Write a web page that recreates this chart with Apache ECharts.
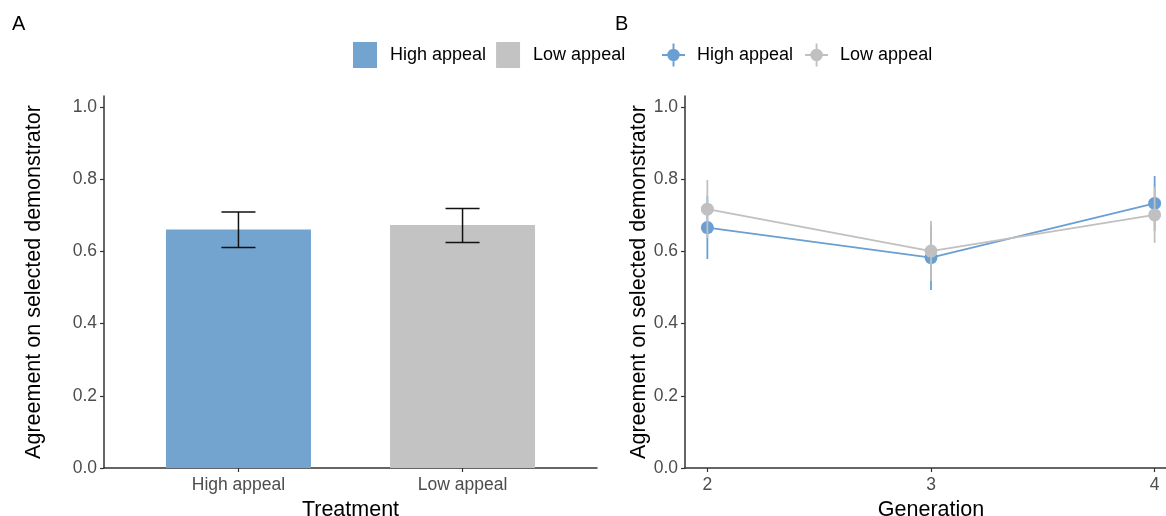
<!DOCTYPE html>
<html>
<head>
<meta charset="utf-8">
<script src="https://cdn.jsdelivr.net/npm/echarts@6/dist/echarts.min.js"></script>
<style>
html,body{margin:0;padding:0;background:#fff;}
#chart{width:1166px;height:516px;}
</style>
</head>
<body>
<div id="chart"></div>
<script>
// ---- Data ----
const treatments = ['High appeal', 'Low appeal'];
const barMeans = [0.661, 0.673];
const barLower = [0.611, 0.625];
const barUpper = [0.709, 0.719];

const generations = [2, 3, 4];
const highMean = [0.666, 0.583, 0.733];
const highLower = [0.579, 0.493, 0.657];
const highUpper = [0.753, 0.673, 0.809];
const lowMean = [0.717, 0.601, 0.701];
const lowLower = [0.637, 0.518, 0.624];
const lowUpper = [0.798, 0.684, 0.778];

const yTicks = [0, 0.2, 0.4, 0.6, 0.8, 1.0];
const treatmentTicks = [1, 2];

// ---- Styles ----
const FONT = 'Liberation Sans, Arial, sans-serif';
const BLUE_BAR = '#72a4cf';
const GRAY_BAR = '#c3c3c3';
const BLUE = '#6a9fd2';
const GRAY = '#c0c0c0';
const AXIS = '#333333';
const TICKTXT = '#4d4d4d';

const chart = echarts.init(document.getElementById('chart'), null, {renderer: 'canvas'});

function errRender(whisker, color, width) {
  return function (params, api) {
    const x = api.value(0), lo = api.value(1), hi = api.value(2);
    const a = api.coord([x, lo]);
    const b = api.coord([x, hi]);
    const style = {stroke: color, lineWidth: width, fill: null};
    const children = [{type: 'line', shape: {x1: a[0], y1: a[1], x2: b[0], y2: b[1]}, style: style}];
    if (whisker > 0) {
      children.push({type: 'line', shape: {x1: a[0] - whisker / 2, y1: a[1], x2: a[0] + whisker / 2, y2: a[1]}, style: style});
      children.push({type: 'line', shape: {x1: b[0] - whisker / 2, y1: b[1], x2: b[0] + whisker / 2, y2: b[1]}, style: style});
    }
    return {type: 'group', children: children};
  };
}

const pointIcon = 'path://M0,11 L24,11 L24,13 L0,13 Z M11,0 L13,0 L13,24 L11,24 Z M5.5,12 A6.5,6.5 0 1,1 18.5,12 A6.5,6.5 0 1,1 5.5,12 Z';

const yAxisCommon = {
  type: 'value', min: 0, max: 1.0305,
  axisLine: {show: true, lineStyle: {color: AXIS, width: 1.5}},
  axisTick: {show: true, length: 4, lineStyle: {color: AXIS, width: 1.2}, customValues: yTicks},
  axisLabel: {color: TICKTXT, fontSize: 17.5, fontFamily: FONT, margin: 7, customValues: yTicks,
    formatter: v => v.toFixed(1)},
  splitLine: {show: false},
  name: 'Agreement on selected demonstrator', nameLocation: 'middle',
  nameTextStyle: {color: '#000', fontSize: 21.5, fontFamily: FONT}
};

const option = {
  animation: false,
  backgroundColor: '#fff',
  title: [
    {text: 'A', left: 7, top: 9, textStyle: {fontSize: 20, fontWeight: 'normal', color: '#000', fontFamily: FONT}},
    {text: 'B', left: 610, top: 9, textStyle: {fontSize: 20, fontWeight: 'normal', color: '#000', fontFamily: FONT}}
  ],
  legend: [
    {
      left: 348, top: 37, icon: 'rect', itemWidth: 24, itemHeight: 26, itemGap: 10,
      data: treatments,
      textStyle: {fontSize: 18, color: '#000', fontFamily: FONT, padding: [0, 0, 0, 8]},
      selectedMode: false
    },
    {
      left: 657, top: 38.5, itemWidth: 23, itemHeight: 23, itemGap: 12,
      data: [{name: 'High appeal (B)', icon: pointIcon}, {name: 'Low appeal (B)', icon: pointIcon}],
      formatter: n => n.replace(' (B)', ''),
      textStyle: {fontSize: 18, color: '#000', fontFamily: FONT, padding: [0, 0, 0, 7]},
      selectedMode: false
    }
  ],
  grid: [
    {left: 104, top: 96, width: 493, height: 372, containLabel: false, outerBoundsMode: 'none'},
    {left: 685, top: 96, width: 492, height: 372, containLabel: false, outerBoundsMode: 'none'}
  ],
  xAxis: [
    {
      gridIndex: 0, type: 'value', min: 0.4, max: 2.6,
      axisLine: {show: true, lineStyle: {color: AXIS, width: 1.5}},
      axisTick: {show: true, length: 4, lineStyle: {color: AXIS, width: 1.2}, customValues: treatmentTicks},
      axisLabel: {color: TICKTXT, fontSize: 17.5, fontFamily: FONT, margin: 8, customValues: treatmentTicks,
        formatter: v => treatments[Math.round(v) - 1] || ''},
      splitLine: {show: false},
      name: 'Treatment', nameLocation: 'middle', nameGap: 29,
      nameTextStyle: {color: '#000', fontSize: 21.5, fontFamily: FONT}
    },
    {
      gridIndex: 1, type: 'value', min: 1.9, max: 4.1,
      axisLine: {show: true, lineStyle: {color: AXIS, width: 1.5}},
      axisTick: {show: true, length: 4, lineStyle: {color: AXIS, width: 1.2}, customValues: generations},
      axisLabel: {color: TICKTXT, fontSize: 17.5, fontFamily: FONT, margin: 8, customValues: generations,
        formatter: v => String(v)},
      splitLine: {show: false},
      name: 'Generation', nameLocation: 'middle', nameGap: 29,
      nameTextStyle: {color: '#000', fontSize: 21.5, fontFamily: FONT}
    }
  ],
  yAxis: [
    Object.assign({}, yAxisCommon, {gridIndex: 0, nameGap: 59}),
    Object.assign({}, yAxisCommon, {gridIndex: 1, nameGap: 33})
  ],
  series: [
    {
      name: treatments[0], type: 'bar', xAxisIndex: 0, yAxisIndex: 0,
      barWidth: 145, barGap: '-100%',
      itemStyle: {color: BLUE_BAR},
      data: [[1, barMeans[0]]]
    },
    {
      name: treatments[1], type: 'bar', xAxisIndex: 0, yAxisIndex: 0,
      barWidth: 145, barGap: '-100%',
      itemStyle: {color: GRAY_BAR},
      data: [[2, barMeans[1]]]
    },
    {
      name: 'barErr', type: 'custom', xAxisIndex: 0, yAxisIndex: 0, z: 5,
      renderItem: errRender(34, '#111', 1.5),
      encode: {x: 0, y: [1, 2]},
      data: treatmentTicks.map((x, i) => [x, barLower[i], barUpper[i]])
    },
    {
      name: 'highErr', type: 'custom', xAxisIndex: 1, yAxisIndex: 1, z: 2,
      renderItem: errRender(0, BLUE, 1.8),
      encode: {x: 0, y: [1, 2]},
      data: generations.map((g, i) => [g, highLower[i], highUpper[i]])
    },
    {
      name: 'High appeal (B)', type: 'line', xAxisIndex: 1, yAxisIndex: 1, z: 3,
      symbol: 'circle', symbolSize: 13, showSymbol: true,
      lineStyle: {color: BLUE, width: 1.8},
      itemStyle: {color: BLUE},
      data: generations.map((g, i) => [g, highMean[i]])
    },
    {
      name: 'lowErr', type: 'custom', xAxisIndex: 1, yAxisIndex: 1, z: 4,
      renderItem: errRender(0, GRAY, 1.8),
      encode: {x: 0, y: [1, 2]},
      data: generations.map((g, i) => [g, lowLower[i], lowUpper[i]])
    },
    {
      name: 'Low appeal (B)', type: 'line', xAxisIndex: 1, yAxisIndex: 1, z: 5,
      symbol: 'circle', symbolSize: 13, showSymbol: true,
      lineStyle: {color: GRAY, width: 1.8},
      itemStyle: {color: GRAY},
      data: generations.map((g, i) => [g, lowMean[i]])
    }
  ]
};
chart.setOption(option);
</script>
</body>
</html>
